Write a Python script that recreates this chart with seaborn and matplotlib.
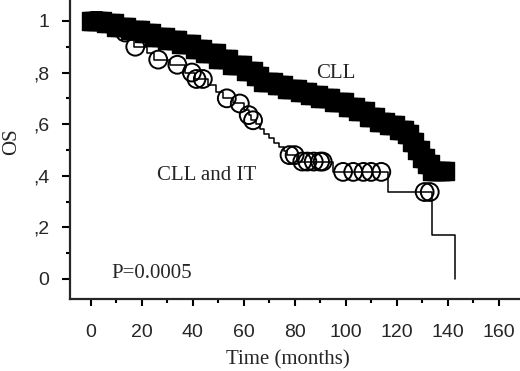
import numpy as np
import pandas as pd
import matplotlib
matplotlib.use("Agg")
import matplotlib.pyplot as plt
import seaborn as sns

# Kaplan-Meier steps (time in months, survival after the step)
cll_time = [0, 5, 10, 15, 20, 25, 30, 35, 40, 45, 50, 55, 60, 64, 67, 72, 77, 82,
            86, 90, 95, 100, 104, 108, 112, 116, 120, 124, 126, 128, 130, 132, 134, 139]
cll_surv = [1.0, 0.99, 0.978, 0.965, 0.952, 0.938, 0.925, 0.91, 0.893, 0.875, 0.853,
            0.83, 0.805, 0.785, 0.765, 0.75, 0.738, 0.725, 0.712, 0.70, 0.685, 0.668,
            0.65, 0.628, 0.61, 0.595, 0.578, 0.56, 0.53, 0.50, 0.47, 0.445, 0.42, 0.42]
cll_censor = [0, 1, 2, 3, 4.5, 6, 7.5, 9, 10, 11.5, 13, 14, 15.5, 17, 18, 19.5, 21, 22,
              23.5, 25, 26, 27.5, 29, 30, 31.5, 33, 34, 35.5, 37, 38, 39.5, 41, 42, 43.5,
              45, 46, 47.5, 49, 50, 51.5, 53, 54, 55.5, 57, 58, 59.5, 61, 62, 63.5, 65,
              66, 67.5, 69, 70, 71.5, 73, 74, 75.5, 77, 78, 79.5, 81, 82, 83.5, 85, 86,
              87.5, 89, 90, 91.5, 93, 94, 95.5, 97, 98, 99.5, 101, 102, 103.5, 105, 106,
              107.5, 109, 110, 111.5, 113, 114, 115.5, 117, 118, 119.5, 121, 122, 123,
              124, 125, 126, 127, 128, 129, 130, 131, 132, 133, 134, 135, 136, 137, 138,
              139]

it_time = [0, 5, 9, 12, 15, 17, 22, 25, 31, 37, 41, 46, 49, 52, 56, 60, 62, 63, 65,
           66.5, 68, 70, 72, 74, 76, 77, 81, 95, 116.5, 134, 143]
it_surv = [1.0, 0.985, 0.97, 0.955, 0.925, 0.90, 0.875, 0.85, 0.83, 0.80, 0.775, 0.75,
           0.725, 0.70, 0.68, 0.655, 0.635, 0.615, 0.60, 0.58, 0.56, 0.545, 0.525, 0.51,
           0.495, 0.48, 0.455, 0.415, 0.337, 0.17, 0.0]
it_censor = [1, 2.5, 3.5, 13.5, 17.5, 26.5, 34, 39.7, 41.5, 44, 53.4, 58.5, 62, 63.7,
             78, 80, 83, 85, 87.5, 90, 91, 99, 103, 107, 110, 114, 131, 133]


def surv_at(times, surv, t):
    idx = np.searchsorted(times, t, side="right") - 1
    return np.asarray(surv)[idx]


cll = pd.DataFrame({"t": cll_time, "s": cll_surv})
it = pd.DataFrame({"t": it_time, "s": it_surv})
cll_c = pd.DataFrame({"t": cll_censor, "s": surv_at(cll_time, cll_surv, cll_censor)})
it_c = pd.DataFrame({"t": it_censor, "s": surv_at(it_time, it_surv, it_censor)})

sns.set_style("ticks")
fig = plt.figure(figsize=(5.2, 3.71), dpi=100)
ax = fig.add_axes([70 / 520, 72 / 371, 450 / 520, 299 / 371])

sns.lineplot(data=cll, x="t", y="s", ax=ax, color="black", lw=1.1,
             drawstyle="steps-post", estimator=None, sort=False)
sns.scatterplot(data=cll_c, x="t", y="s", ax=ax, marker="s", s=150,
                color="black", edgecolor="black", linewidth=1, zorder=3)
sns.lineplot(data=it, x="t", y="s", ax=ax, color="black", lw=1.1,
             drawstyle="steps-post", estimator=None, sort=False)
sns.scatterplot(data=it_c, x="t", y="s", ax=ax, marker="o", s=165,
                facecolor="none", edgecolor="black", linewidth=1.4, zorder=4)

ax.set_xlim(-8.1, 168.4)
ax.set_ylim(-0.0775, 1.081)
ax.set_xticks(range(0, 161, 20))
ax.set_xticks(range(10, 160, 20), minor=True)
ax.set_yticks([0, 0.2, 0.4, 0.6, 0.8, 1.0])
ax.set_yticklabels(["0", ",2", ",4", ",6", ",8", "1"])
ax.set_yticks([0.1, 0.3, 0.5, 0.7, 0.9], minor=True)
sns.despine(ax=ax)
for s in ["left", "bottom"]:
    ax.spines[s].set_linewidth(1.6)
ax.tick_params(axis="both", which="major", width=1.5, color="black",
               labelsize=14, labelfontfamily="Liberation Sans")
ax.tick_params(axis="x", which="major", length=5, pad=13)
ax.tick_params(axis="y", which="major", length=6, pad=9)
ax.tick_params(axis="both", which="minor", length=3, width=1.5, color="black")

serif = "Liberation Serif"
ax.set_xlabel("Time (months)", family=serif, fontsize=15)
ax.xaxis.set_label_coords(0.484, -0.17)
ax.set_ylabel("")
fig.text(12 / 520, 1 - 142 / 371, "OS", family=serif, fontsize=15,
         rotation=90, ha="center", va="center")

ax.text(96.2, 0.795, "CLL", family=serif, fontsize=15, ha="center", va="center")
ax.text(45.3, 0.40, "CLL and IT", family=serif, fontsize=15, ha="center", va="center")
ax.text(24.0, 0.02, "P=0.0005", family=serif, fontsize=15, ha="center", va="center")

fig.savefig("out.png", dpi=100)
